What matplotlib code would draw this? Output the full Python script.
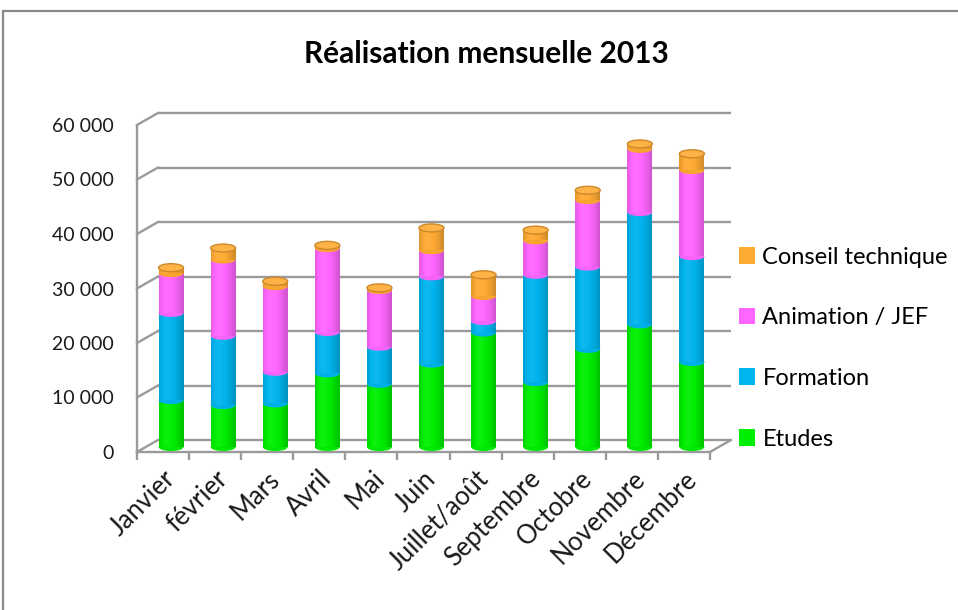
import matplotlib
matplotlib.use("Agg")
import matplotlib.pyplot as plt
from matplotlib.patches import Ellipse, Rectangle, Patch
import numpy as np

months = ["Janvier", "février", "Mars", "Avril", "Mai", "Juin", "Juillet/août",
          "Septembre", "Octobre", "Novembre", "Décembre"]
etudes = [8600, 7700, 8000, 13500, 11600, 15300, 21000, 11900, 18000, 22500, 15600]
formation = [16000, 12700, 5800, 7600, 6800, 16000, 2100, 19700, 15100, 20600, 19400]
animation = [7300, 14000, 15700, 15400, 10400, 4800, 4600, 6300, 12200, 11600, 15800]
conseil = [1000, 2100, 900, 500, 400, 4100, 3900, 1900, 1800, 900, 3000]
series_names = ["Etudes", "Formation", "Animation / JEF", "Conseil technique"]
series_vals = [etudes, formation, animation, conseil]
colors = ["#00EE00", "#00B4EE", "#FF66FF", "#FFAA33"]
yticks = [0, 10000, 20000, 30000, 40000, 50000, 60000]
ytick_labels = ["0", "10 000", "20 000", "30 000", "40 000", "50 000", "60 000"]
title = "Réalisation mensuelle 2013"

plt.rcParams['font.family'] = ['Lato', 'DejaVu Sans']
W, H = 958, 610
fig = plt.figure(figsize=(W / 100, H / 100), dpi=100)
fig.patch.set_facecolor("white")

# chart frame
fig.add_artist(Rectangle((3 / W, -0.2), 2.0, 1.2 - 11 / H, transform=fig.transFigure,
                         fill=False, ec="#8a8a8a", lw=1.6))

left_px, right_px, bot_px, top_px = 137, 710, 452, 125
ax = fig.add_axes([left_px / W, (H - bot_px) / H, (right_px - left_px) / W, (bot_px - top_px) / H])
n = len(months)
ax.set_xlim(-0.5, n - 0.5)
ax.set_ylim(0, 60000)
ax.set_facecolor("none")

ux = n / (right_px - left_px)          # data units per px (x)
uy = 60000 / (bot_px - top_px)         # data units per px (y)
gray = "#9a9a9a"

# back wall gridlines + left wall diagonals
ddx, ddy = 21 * ux, 12 * uy
for yv in yticks:
    ax.plot([-0.5 + ddx, n - 0.5 + ddx], [yv + ddy, yv + ddy], color=gray, lw=1.7,
            clip_on=False, zorder=1, solid_capstyle="butt")
    ax.plot([-0.5, -0.5 + ddx], [yv, yv + ddy], color=gray, lw=1.7, clip_on=False, zorder=1)
# right floor diagonal
ax.plot([n - 0.5, n - 0.5 + ddx], [0, ddy], color=gray, lw=1.7, clip_on=False, zorder=1)

for side in ["top", "right"]:
    ax.spines[side].set_visible(False)
for side in ["left", "bottom"]:
    ax.spines[side].set_color(gray)
    ax.spines[side].set_linewidth(1.7)
    ax.spines[side].set_zorder(0.5)

ax.set_yticks(yticks)
ax.set_yticklabels(ytick_labels, fontsize=14, color="#1a1a1a")
ax.tick_params(axis="y", length=0, pad=17)
ax.set_xticks(np.arange(n))
ax.set_xticklabels(months, rotation=45, ha="right", va="top", rotation_mode="anchor",
                   fontsize=18.5, color="#1a1a1a")
ax.set_xticks(np.arange(n + 1) - 0.5, minor=True)
ax.tick_params(axis="x", which="major", length=0, pad=10)
ax.tick_params(axis="x", which="minor", length=6, width=1.7, color=gray)

# cylinders
bx, by = 8 * ux, 5 * uy
bw = 25 * ux
eh = 8 * uy
nstrip = 14
prof = np.linspace(-1, 1, nstrip)
shade = 1.0 - 0.18 * np.clip(prof, 0, 1) ** 1.5 - 0.10 * np.clip(-prof, 0, 1) ** 3 + 0.06 * np.exp(-((prof + 0.4) / 0.35) ** 2)


def adj(c, f):
    rgb = np.array(matplotlib.colors.to_rgb(c))
    if f <= 1:
        return tuple(rgb * f)
    return tuple(rgb + (1 - rgb) * (f - 1))


x = np.arange(n)
bottoms = np.zeros(n)
z = 3
for si, (vals, col) in enumerate(zip(series_vals, colors)):
    vals = np.array(vals, dtype=float)
    # bottom arc of segment
    for i in range(n):
        ax.add_patch(Ellipse((x[i] + bx, bottoms[i] + by), bw, eh, fc=adj(col, 0.97), ec="none",
                             zorder=z + si * 2, clip_on=False))
    sw = bw / nstrip
    for k in range(nstrip):
        ax.bar(x + bx - bw / 2 + sw * (k + 0.5), vals, width=sw * 1.02, bottom=bottoms + by,
               color=adj(col, shade[k]), lw=0, zorder=z + si * 2 + 1)
    bottoms = bottoms + vals

# top caps
topc = colors[3]
for i in range(n):
    ax.add_patch(Ellipse((x[i] + bx, bottoms[i] + by), bw, eh, fc=adj(topc, 1.1),
                         ec=adj(topc, 0.8), lw=1.0, zorder=20, clip_on=False))

fig.text(486 / W, 1 - 54 / H, title, ha="center", va="center", fontsize=21.5,
         fontweight="bold", color="black")

handles = [Patch(facecolor=colors[i], edgecolor="none") for i in range(3, -1, -1)]
labels = [series_names[i] for i in range(3, -1, -1)]
fig.legend(handles, labels, loc="center left", bbox_to_anchor=(727 / W, 1 - 348 / H),
           frameon=False, fontsize=17, handlelength=0.7, handleheight=0.7,
           handletextpad=0.3, labelspacing=1.68, borderpad=0)

fig.savefig("out.png", dpi=100, facecolor="white")
